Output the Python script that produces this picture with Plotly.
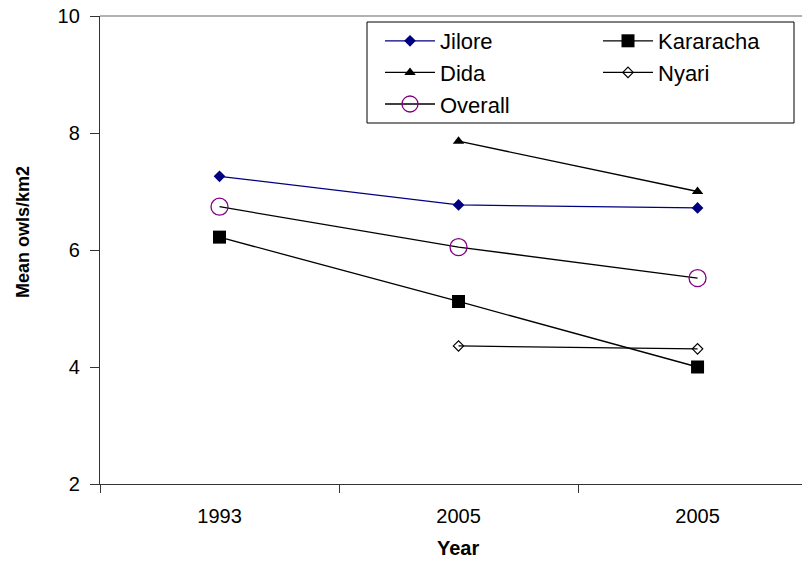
import plotly.graph_objects as go

x_pos = [0, 1, 2]
tick_labels = ["1993", "2005", "2005"]

jilore = [7.26, 6.77, 6.72]
kararacha = [6.22, 5.12, 4.0]
dida = [None, 7.86, 7.0]
nyari = [None, 4.36, 4.31]
overall = [6.74, 6.05, 5.52]

FONT = "Arial, Liberation Sans, sans-serif"

def px_x(p):
    return (p - 100) / 702.0

def px_y(p):
    return (484 - p) / 468.0

fig = go.Figure()
fig.add_trace(go.Scatter(x=x_pos, y=jilore, name="Jilore", mode="lines+markers",
                         legend="legend", legendgroup="a",
                         line=dict(color="#000080", width=1.3),
                         marker=dict(symbol="diamond", size=9, color="#000080")))
fig.add_trace(go.Scatter(x=x_pos, y=kararacha, name="Kararacha", mode="lines+markers",
                         legend="legend2", legendgroup="b",
                         line=dict(color="black", width=1.3),
                         marker=dict(symbol="square", size=13, color="black")))
fig.add_trace(go.Scatter(x=x_pos, y=dida, name="Dida", mode="lines+markers",
                         legend="legend", legendgroup="c",
                         line=dict(color="black", width=1.3),
                         marker=dict(symbol="triangle-up", size=10, color="black")))
fig.add_trace(go.Scatter(x=x_pos, y=nyari, name="Nyari", mode="lines+markers",
                         legend="legend2", legendgroup="d",
                         line=dict(color="black", width=1.3),
                         marker=dict(symbol="diamond-open", size=8, color="black",
                                     line=dict(width=1.2))))
fig.add_trace(go.Scatter(x=x_pos, y=overall, name="Overall", mode="lines+markers",
                         legend="legend", legendgroup="e",
                         line=dict(color="black", width=1.3),
                         marker=dict(symbol="circle-open", size=17, color="#800080",
                                     line=dict(width=1.3, color="#800080"))))

leg_common = dict(orientation="v", xanchor="left", yanchor="top",
                  bgcolor="rgba(0,0,0,0)", borderwidth=0, itemwidth=50,
                  tracegroupgap=0, font=dict(family=FONT, size=22, color="black"))

fig.update_layout(
    width=802, height=561,
    margin=dict(l=100, r=0, t=16, b=77),
    paper_bgcolor="white", plot_bgcolor="white",
    font=dict(family=FONT, size=20, color="black"),
    showlegend=True,
    legend=dict(x=px_x(380), y=px_y(20), **leg_common),
    legend2=dict(x=px_x(598), y=px_y(20), **leg_common),
    xaxis=dict(range=[-0.5, 2.437], tickvals=x_pos, ticktext=tick_labels,
               ticks="", showgrid=False, zeroline=False,
               showline=True, linecolor="#333333", linewidth=1.3,
               tickfont=dict(family=FONT, size=20), ticklabelstandoff=14,
               minor=dict(tickmode="array", tickvals=[-0.5, 0.5, 1.5], ticks="outside",
                          ticklen=8, tickcolor="#333333", tickwidth=1, showgrid=False)),
    yaxis=dict(range=[2, 10], tickvals=[2, 4, 6, 8, 10], ticks="outside", ticklen=9,
               tickcolor="#333333", showgrid=False, zeroline=False,
               showline=True, linecolor="#333333", linewidth=1.3,
               tickfont=dict(family=FONT, size=20), ticklabelstandoff=6),
)
fig.add_annotation(text="<b>Year</b>", xref="paper", yref="paper",
                   x=px_x(458), y=px_y(548), xanchor="center", yanchor="middle",
                   showarrow=False, font=dict(family=FONT, size=20, color="black"))
fig.add_annotation(text="<b>Mean owls/km2</b>", xref="paper", yref="paper",
                   x=px_x(23), y=px_y(232), xanchor="center", yanchor="middle",
                   textangle=-90, showarrow=False,
                   font=dict(family=FONT, size=18, color="black"))
fig.add_shape(type="line", xref="paper", yref="paper", x0=0, x1=1, y0=1, y1=1,
              line=dict(color="#999999", width=1.3))
fig.add_shape(type="rect", xref="paper", yref="paper", layer="above",
              x0=px_x(367), x1=px_x(794), y0=px_y(123), y1=px_y(22),
              fillcolor="white", line=dict(color="black", width=1))

fig.write_html("out.html")
